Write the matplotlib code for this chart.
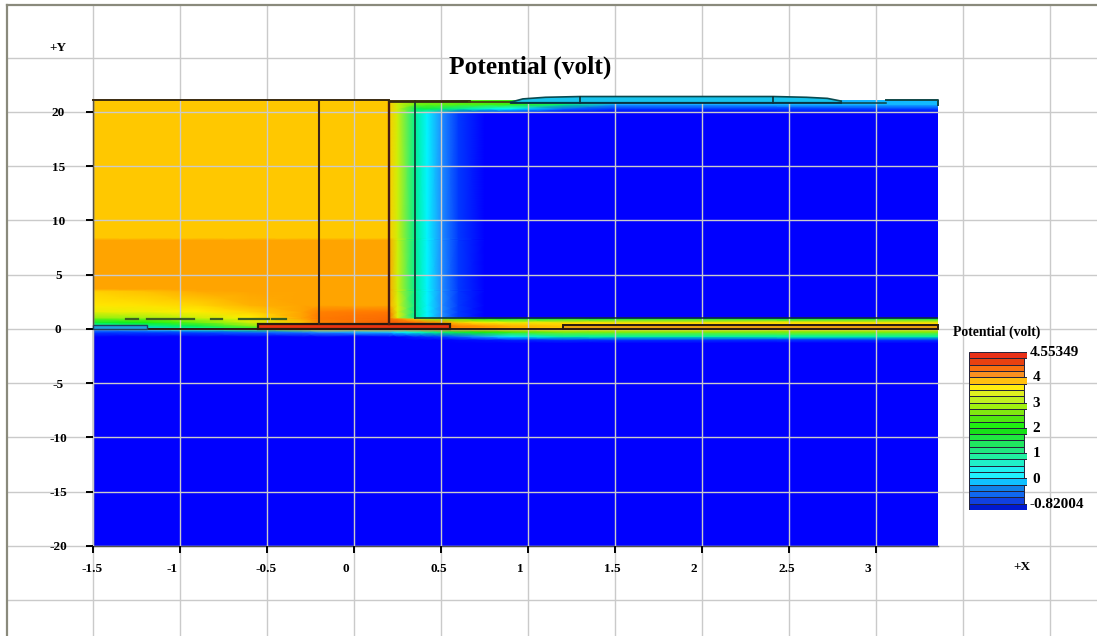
import matplotlib
matplotlib.use("Agg")
import matplotlib.pyplot as plt
from matplotlib.colors import LinearSegmentedColormap, Normalize
from matplotlib.patches import Polygon, Rectangle
from matplotlib.transforms import ScaledTranslation

W, H = 1097, 636
B = -0.82
UP = 3.92
MID = 4.05

x_nodes = [-1.5, -1.2, -0.9, -0.6, -0.3, -0.2, 0.2, 0.25, 0.35, 0.42, 0.5, 0.6, 0.75, 0.9, 1.2, 1.5, 3.36]
y_nodes = [-20, -1.3, -1.0, -0.7, -0.3, 0.0, 0.3, 0.6, 0.95, 1.05, 1.6, 2.2, 3.5, 3.7, 8.2, 8.4, 19.9, 20.3, 20.7, 21.1]

col_m150 = [B, B, B, B, -0.4, 0.0, 0.8, 1.7, 2.6, 2.9, 3.45, 3.65, 3.85, MID, MID, UP, UP, UP, UP, UP]
col_m120 = [B, B, B, B, -0.4, 0.2, 1.0, 2.0, 2.7, 3.05, 3.5, 3.7, 3.95, MID, MID, UP, UP, UP, UP, UP]
col_m090 = [B, B, B, B, -0.3, 0.8, 1.6, 2.6, 3.1, 3.3, 3.6, 3.8, 4.03, MID, MID, UP, UP, UP, UP, UP]
col_m060 = [B, B, B, B, -0.2, 1.5, 2.8, 3.3, 3.5, 3.6, 3.85, 4.0, MID, MID, MID, UP, UP, UP, UP, UP]
col_m030 = [B, B, B, B, -0.1, 3.0, 3.7, 3.9, 4.05, 4.05, MID, MID, MID, MID, MID, UP, UP, UP, UP, UP]
col_m020 = [B, B, B, B, 0.0, 3.6, 4.1, 4.2, 4.25, 4.25, 4.22, MID, MID, MID, MID, UP, UP, UP, UP, UP]
col_p020 = [B, B, B, B, 0.2, 4.0, 4.4, 4.35, 4.3, 4.3, 4.25, MID, MID, MID, MID, UP, UP, UP, UP, UP]
col_p025 = [B, B, B, B, 0.4, 4.1, 4.4, 4.35, 4.2, 3.4, 3.4, 3.4, 3.3, 3.3, 3.3, 3.3, 3.3, 3.3, 3.3, 3.3]
col_p035 = [B, B, B, -0.6, 0.7, 4.2, 4.4, 4.3, 3.9, 1.0, 1.0, 1.0, 1.0, 1.0, 1.0, 1.0, 1.0, 1.4, 2.7, 2.7]
col_p042 = [B, B, B, -0.5, 0.9, 4.2, 4.3, 4.2, 3.0, 0.45, 0.45, 0.45, 0.45, 0.45, 0.45, 0.45, 0.45, 1.6, 2.6, 2.6]
col_p050 = [B, B, B, -0.4, 1.2, 4.2, 4.3, 4.1, 2.8, 0.0, 0.0, 0.0, 0.0, 0.0, 0.0, 0.0, 0.0, 1.3, 2.6, 2.6]
col_p060 = [B, B, -0.75, -0.2, 1.6, 4.2, 4.2, 3.9, 2.5, -0.45, -0.45, -0.45, -0.45, -0.45, -0.45, -0.45, -0.45, 1.0, 2.5, 2.5]
col_p075 = [B, B, -0.7, 0.1, 2.0, 4.1, 4.1, 3.6, 1.9, B, B, B, B, B, B, B, B, 0.7, 2.4, 2.4]
col_p090 = [B, B, -0.6, 0.4, 2.3, 4.0, 4.0, 3.5, 1.6, B, B, B, B, B, B, B, B, 0.5, 2.3, 2.3]
col_p120 = [B, B, -0.5, 0.9, 2.7, 3.9, 3.9, 3.7, 1.6, B, B, B, B, B, B, B, B, -0.2, 1.2, 1.2]
col_p150 = [B, B, -0.5, 0.9, 2.7, 3.9, 3.9, 3.7, 1.6, B, B, B, B, B, B, B, B, -0.5, 0.1, 0.1]
col_p336 = [B, B, -0.5, 0.9, 2.7, 3.9, 3.9, 3.7, 1.6, B, B, B, B, B, B, B, B, -0.4, 0.2, 0.2]
field_columns = [col_m150, col_m120, col_m090, col_m060, col_m030, col_m020, col_p020, col_p025, col_p035,
                 col_p042, col_p050, col_p060, col_p075, col_p090, col_p120, col_p150, col_p336]

map_values = [-0.82, -0.3, 0.0, 0.5, 1.0, 2.0, 3.0, 3.6, 3.92, 4.05, 4.25, 4.55]
map_colors = ["#0000ff", "#0050ff", "#1e90ff", "#00ffff", "#00f090", "#10f010", "#a0f010",
              "#ffee00", "#ffc800", "#ffa500", "#ff7a00", "#e83010"]

x_ticks = [-1.5, -1, -0.5, 0, 0.5, 1, 1.5, 2, 2.5, 3]
x_tick_labels = ["-1.5", "-1", "-0.5", "0", "0.5", "1", "1.5", "2", "2.5", "3"]
y_ticks = [-20, -15, -10, -5, 0, 5, 10, 15, 20]
y_tick_labels = ["-20", "-15", "-10", "-5", "0", "5", "10", "15", "20"]

legend_edges = [5, 4.75, 4.5, 4.25, 4, 3.75, 3.5, 3.25, 3, 2.75, 2.5, 2.25, 2, 1.75, 1.5, 1.25, 1, 0.75, 0.5, 0.25,
                0, -0.25, -0.5, -0.75, -1]
legend_colors = ["#e83018", "#e84010", "#f87010", "#f89020", "#ffc010", "#ffee10", "#e0f020", "#c0f020", "#a0f010",
                 "#80e810", "#50e810", "#20f010", "#18e018", "#20e840", "#20e860", "#20e880", "#20f0a0", "#20f0c8",
                 "#20f0f0", "#20f0ff", "#10c0ff", "#1080e8", "#1068f0", "#1040e0", "#0018d0"]
legend_ticks = [5, 4, 3, 2, 1, 0, -1]
legend_tick_labels = ["4.55349", "4", "3", "2", "1", "0", "-0.82004"]

dome_x = [0.9, 0.97, 1.1, 1.3, 2.41, 2.6, 2.72, 2.8, 2.8, 0.9]
dome_y = [20.9, 21.2, 21.35, 21.42, 21.42, 21.35, 21.25, 21.0, 20.85, 20.85]
dash_starts = [-1.31, -1.19, -0.82, -0.66, -0.47]
dash_ends = [-1.24, -0.92, -0.76, -0.49, -0.39]

plt.rcParams["font.family"] = ["Liberation Serif", "DejaVu Serif"]
plt.rcParams["font.weight"] = "bold"
fig = plt.figure(figsize=(W / 100, H / 100), dpi=100, facecolor="white")

PX_X0, PX_X1 = 93, 938
PX_Y_TOP, PX_Y_BOT = 100, 546
XLIM = (-1.5, 3.356)
YLIM = (-20, 21.1)
sx = (XLIM[1] - XLIM[0]) / (PX_X1 - PX_X0)
sy = (YLIM[1] - YLIM[0]) / (PX_Y_BOT - PX_Y_TOP)

# background grid across the whole window
bg = fig.add_axes([0, 0, 1, 1], zorder=0)
bg.set_xlim(XLIM[0] - PX_X0 * sx, XLIM[0] + (W - PX_X0) * sx)
bg.set_ylim(YLIM[0] - (H - PX_Y_BOT) * sy, YLIM[0] + PX_Y_BOT * sy)
bg.axis("off")
GRID = "#cacaca"
FRAME = "#8a8a7c"
left_edge = bg.get_xlim()[0] + 7 * sx
top_edge = bg.get_ylim()[1] - 5 * sy
for v in [-1.5, -1, -0.5, 0, 0.5, 1, 1.5, 2, 2.5, 3, 3.5, 4]:
    bg.plot([v, v], [bg.get_ylim()[0], top_edge], color=GRID, lw=1)
for v in [-25, -20, -15, -10, -5, 0, 5, 10, 15, 20, 25]:
    bg.plot([left_edge, bg.get_xlim()[1]], [v, v], color=GRID, lw=1)
bg.plot([left_edge, bg.get_xlim()[1]], [top_edge, top_edge], color=FRAME, lw=1.6)
bg.plot([left_edge, left_edge], [bg.get_ylim()[0], top_edge], color=FRAME, lw=1.6)
bg.text(-1.5 - 35 * sx, 25.9, "+Y", fontsize=9.5, ha="center", va="center")
bg.text(3.0 + 146 * sx, -21.9, "+X", fontsize=9.5, ha="center", va="center")

# main field
ax = fig.add_axes([PX_X0 / W, 1 - PX_Y_BOT / H, (PX_X1 - PX_X0) / W, (PX_Y_BOT - PX_Y_TOP) / H], zorder=1)
ax.patch.set_alpha(0)
stops = [(v - map_values[0]) / (map_values[-1] - map_values[0]) for v in map_values]
cmap = LinearSegmentedColormap.from_list("potential", list(zip(stops, map_colors)), N=512)
Z = [[col[j] for col in field_columns] for j in range(len(y_nodes))]
ax.pcolormesh(x_nodes, y_nodes, Z, cmap=cmap, norm=Normalize(map_values[0], map_values[-1]),
              shading="gouraud", zorder=1, rasterized=True)
ax.set_xlim(*XLIM)
ax.set_ylim(*YLIM)
ax.set_xticks(x_ticks, x_tick_labels)
ax.set_yticks(y_ticks, y_tick_labels)
ax.tick_params(axis="both", length=5, width=1.4, color="black", labelsize=9.5)
ax.tick_params(axis="x", pad=7)
ax.tick_params(axis="y", pad=20)
for t in ax.get_yticklabels():
    t.set_fontweight("bold")
    t.set_ha("center")
for t, lbl in zip(ax.get_xticklabels(), x_tick_labels):
    t.set_fontweight("bold")
    if lbl.startswith("-") and "." in lbl:
        dx = -1
    elif "." in lbl:
        dx = -2.5
    else:
        dx = -8
    t.set_transform(t.get_transform() + ScaledTranslation(dx / 100, 0, fig.dpi_scale_trans))
for s in ["top", "right"]:
    ax.spines[s].set_visible(False)
for s in ["left", "bottom"]:
    ax.spines[s].set_color("#505050")
    ax.spines[s].set_linewidth(1.0)
ax.grid(True, color=GRID, lw=1, zorder=2)
ax.set_axisbelow(False)

EDGE = "#2a1a10"
def box(x0, x1, y0, y1, face, lw=1.4, z=3, edge=EDGE):
    ax.add_patch(Rectangle((x0, y0), x1 - x0, y1 - y0, facecolor=face, edgecolor=edge, lw=lw, zorder=z, clip_on=False))

ax.plot([-1.5, 3.356], [0, 0], color="#201008", lw=1.3, zorder=3)
box(-1.5, -1.19, 0, 0.33, "#20a0e0", lw=1.0, edge="#204060")
box(-0.55, 0.55, 0, 0.42, "#e83412", lw=1.6)
box(1.2, 3.356, 0, 0.33, "#e8a010", lw=1.4)
ax.plot([0.35, 3.356], [1.0, 1.0], color="#103030", lw=1.1, zorder=3)
ax.plot([-0.2, -0.2], [0.42, 21.1], color="#3a2418", lw=1.5, zorder=3)
ax.plot([0.2, 0.2], [0.42, 21.0], color="#4a1c10", lw=1.7, zorder=3)
ax.plot([0.35, 0.35], [1.0, 21.0], color="#104038", lw=1.3, zorder=3)
ax.plot([-1.5, -1.5], [0.42, 21.1], color="#5a5040", lw=1.0, zorder=3)
ax.plot([-1.5, 0.2], [21.1, 21.1], color="#3a2a10", lw=1.4, zorder=3, clip_on=False)
ax.plot([0.2, 0.66], [21.05, 21.05], color="#3a2a10", lw=2.0, zorder=3, clip_on=False)
ax.plot([0.66, 0.9], [20.9, 20.9], color="#4a4010", lw=1.3, zorder=3, clip_on=False)
ax.plot([2.8, 3.06], [20.85, 20.85], color="#104040", lw=1.1, zorder=3, clip_on=False)
ax.plot([3.06, 3.356, 3.356], [21.1, 21.1, 20.6], color="#104848", lw=1.4, zorder=3, clip_on=False)
ax.add_patch(Polygon(list(zip(dome_x, dome_y)), closed=True, facecolor="#18c4ee", edgecolor="#0a4a50", lw=1.2,
                     zorder=3, clip_on=False))
ax.plot([1.3, 1.3], [20.85, 21.42], color="#103030", lw=1.2, zorder=4, clip_on=False)
ax.plot([2.41, 2.41], [20.85, 21.42], color="#103030", lw=1.2, zorder=4, clip_on=False)
ax.plot([0.9, 2.8], [20.85, 20.85], color="#0a3040", lw=1.2, zorder=4, clip_on=False)
for a, b in zip(dash_starts, dash_ends):
    ax.plot([a, b], [0.92, 0.92], color="#3c6020", lw=1.6, zorder=3)

fig.text(530 / W, 1 - 67.5 / H, "Potential (volt)", fontsize=18.4, fontweight="bold", ha="center", va="center")

# legend
fig.text(997 / W, 1 - 332 / H, "Potential (volt)", fontsize=9.9, fontweight="bold", ha="center", va="center", zorder=5)
cax = fig.add_axes([969 / W, 1 - 510 / H, 58 / W, 158 / H], zorder=2)
cax.patch.set_alpha(0)
legend_widths = [1.05 if v in legend_ticks else 1 for v in legend_edges]
cax.barh(legend_edges, legend_widths, height=0.25, color=legend_colors, edgecolor="#22223a", lw=0.7)
cax.set_xlim(0, 1.05)
cax.set_ylim(-1.125, 5.125)
cax.set_xticks([])
cax.yaxis.tick_right()
cax.set_yticks(legend_ticks, legend_tick_labels)
cax.tick_params(axis="y", length=0, labelsize=11, pad=2)
for t, lbl in zip(cax.get_yticklabels(), legend_tick_labels):
    t.set_fontweight("bold")
    dx = 0 if len(lbl) > 1 else 3
    t.set_transform(t.get_transform() + ScaledTranslation(dx / 100, 4 / 100, fig.dpi_scale_trans))
for s in cax.spines.values():
    s.set_visible(False)

fig.savefig("out.png", dpi=100)
